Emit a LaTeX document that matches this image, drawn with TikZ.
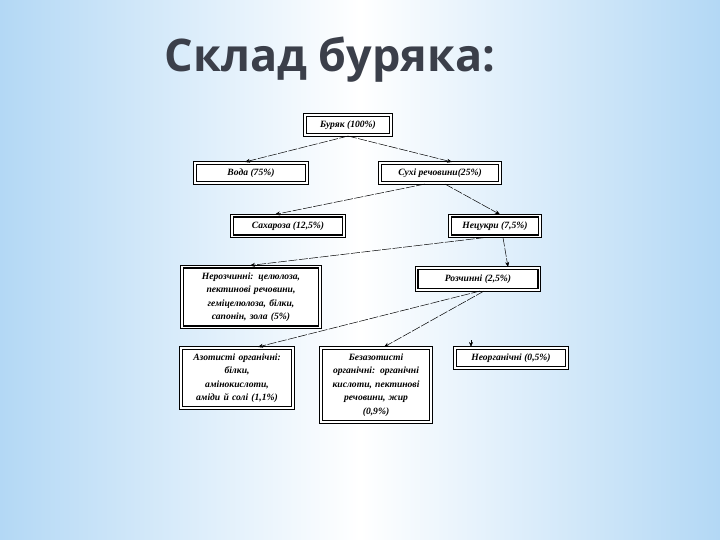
\documentclass[tikz,border=0pt]{standalone}
\usepackage{fontspec}
\setmainfont{Liberation Serif}
\newfontfamily\titlefont{Open Sans}
\usetikzlibrary{arrows.meta}
\definecolor{bgedge}{HTML}{B3D8F5}
\definecolor{titlecol}{HTML}{3B3F4A}
\pgfdeclarelayer{back}
\pgfdeclarelayer{mid}
\pgfsetlayers{back,mid,main}
\tikzset{
  boxnode/.style={draw=black, line width=1.1pt, fill=white,
    inner sep=2pt, align=center, font=\fontsize{9.6}{13.5}\selectfont\itshape\bfseries},
  outerframe/.style={draw=black, line width=0.6pt, fill=white},
  conn/.style={line width=0.5pt, dash pattern=on 9pt off 1.5pt, -{Stealth[length=5pt,width=4pt]}}
}
\begin{document}
\begin{tikzpicture}[x=1pt,y=-1pt]
\useasboundingbox (0,0) rectangle (720,540);
\begin{pgfonlayer}{back}
\shade[left color=bgedge, right color=bgedge, middle color=white] (0,0) rectangle (720,540);
\end{pgfonlayer}
\node[font=\titlefont\bfseries\fontsize{45}{50}\selectfont, text=titlecol] (title) at (330,60) {Склад буряка:};
\node[boxnode, minimum width=83pt, minimum height=17pt] (b) at (348,125) {Буряк (100\%)};
\node[boxnode, minimum width=109pt, minimum height=17pt] (voda) at (251,173) {Вода (75\%)};
\node[boxnode, minimum width=117pt, minimum height=17pt] (sukhi) at (440,173) {Сухі речовини(25\%)};
\node[boxnode, minimum width=109pt, minimum height=18pt] (sakh) at (288,226) {Сахароза (12,5\%)};
\node[boxnode, minimum width=87pt, minimum height=18pt] (netsuk) at (495,226) {Нецукри (7,5\%)};
\node[boxnode, text width=131pt, minimum height=58pt] (nerozch) at (251,297) {Нерозчинні: целюлоза,\\ пектинові речовини,\\ геміцелюлоза, білки,\\ сапонін, зола (5\%)};
\node[boxnode, minimum width=120pt, minimum height=19pt] (rozch) at (478,279) {Розчинні (2,5\%)};
\node[boxnode, text width=105pt, minimum height=57pt] (azot) at (237,378) {Азотисті органічні:\\ білки,\\ амінокислоти,\\ аміди й солі (1,1\%)};
\node[boxnode, text width=103pt, minimum height=71pt] (bezazot) at (376,385) {Безазотисті\\ органічні: органічні\\ кислоти, пектинові\\ речовини, жир\\ (0,9\%)};
\node[boxnode, minimum width=109pt, minimum height=17pt] (neorg) at (511,358) {Неорганічні (0,5\%)};
\begin{pgfonlayer}{mid}
\foreach \n in {b,voda,sukhi,sakh,netsuk,nerozch,rozch,azot,bezazot,neorg}
  \draw[outerframe] ([shift={(-2.2pt,2.2pt)}]\n.north west) rectangle ([shift={(2.2pt,-2.2pt)}]\n.south east);
\end{pgfonlayer}
\coordinate (neorgtop) at (471,340);
\draw[conn] ([yshift=-2pt]b.south) -- ([yshift=2pt]voda.north -| 245,0);
\draw[conn] ([yshift=-2pt]b.south) -- ([yshift=2pt]sukhi.north -| 452,0);
\draw[conn] ([yshift=-2pt]sukhi.south -| 425,0) -- ([yshift=2pt]sakh.north -| 275,0);
\draw[conn] ([yshift=-2pt]sukhi.south -| 445,0) -- ([yshift=2pt]netsuk.north -| 500,0);
\draw[conn] ([yshift=-2pt]netsuk.south -| 485,0) -- ([yshift=2pt]nerozch.north -| 250,0);
\draw[conn] ([yshift=-2pt]netsuk.south -| 503,0) -- ([yshift=2pt]rozch.north -| 508,0);
\draw[conn] ([yshift=-2pt]rozch.south -| 480,0) -- ([yshift=2pt]azot.north -| 258,0);
\draw[conn] ([yshift=-2pt]rozch.south -| 484,0) -- ([yshift=2pt]bezazot.north -| 384,0);
\draw[conn] (neorgtop) -- ([yshift=2pt]neorg.north -| 471,0);
\end{tikzpicture}
\end{document}
